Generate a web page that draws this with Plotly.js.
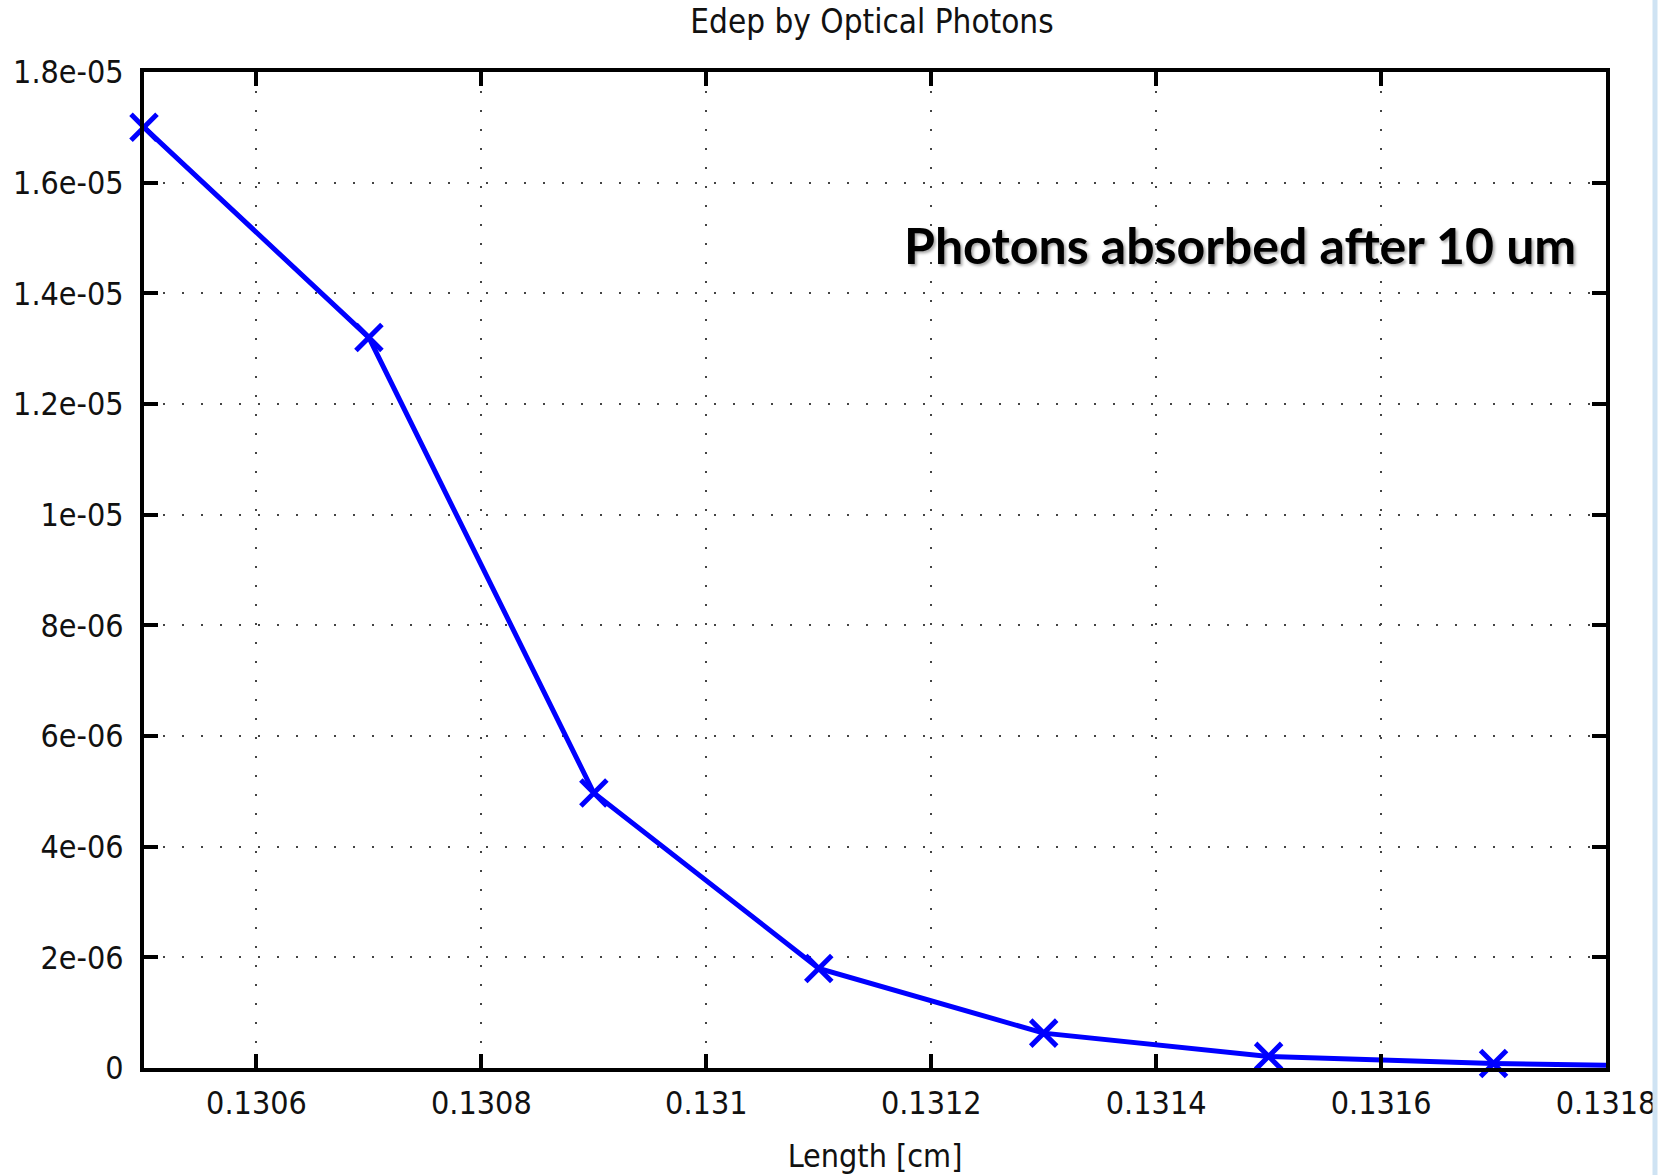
<!DOCTYPE html>
<html>
<head>
<meta charset="utf-8">
<script src="https://cdn.plot.ly/plotly-3.0.1.min.js"></script>
<style>html,body{margin:0;padding:0;background:#fff;}#chart{width:1658px;height:1175px;}</style>
</head>
<body>
<div id="chart"></div>
<script>
// Data
const lengthCm = [0.1305, 0.1307, 0.1309, 0.1311, 0.1313, 0.1315, 0.1317, 0.1319];
const edep     = [1.70e-5, 1.32e-5, 4.97e-6, 1.80e-6, 6.3e-7, 2.1e-7, 8e-8, 2e-8];

const xTickVals = [0.1306, 0.1308, 0.1310, 0.1312, 0.1314, 0.1316, 0.1318];
const xTickText = ["0.1306", "0.1308", "0.131", "0.1312", "0.1314", "0.1316", "0.1318"];
const yTickVals = [0, 2e-6, 4e-6, 6e-6, 8e-6, 1e-5, 1.2e-5, 1.4e-5, 1.6e-5, 1.8e-5];
const yTickText = ["0", "2e-06", "4e-06", "6e-06", "8e-06", "1e-05", "1.2e-05", "1.4e-05", "1.6e-05", "1.8e-05"];

const chartTitle = "Edep by Optical Photons";
const xTitle = "Length [cm]";
const noteText = "Photons absorbed after 10 um";

const tickFont = {family: "Liberation Sans Narrow, DejaVu Sans Condensed, sans-serif", size: 32, color: "#111"};

const trace = {
  x: lengthCm,
  y: edep,
  type: "scatter",
  mode: "lines+markers",
  line: {color: "#0000ff", width: 5},
  marker: {symbol: "x-thin-open", size: 26, color: "#0000ff", line: {color: "#0000ff", width: 5}},
  cliponaxis: false,
  showlegend: false
};

const axisCommon = {
  showline: true, linecolor: "#000", linewidth: 4, mirror: "ticks",
  ticks: "inside", ticklen: 14, tickwidth: 4, tickcolor: "#000",
  showgrid: true, gridcolor: "#444", gridwidth: 2, griddash: "2px,17px",
  zeroline: false, tickfont: tickFont
};

const layout = {
  width: 1658, height: 1175,
  margin: {l: 144, r: 52, t: 72, b: 107},
  paper_bgcolor: "#fff", plot_bgcolor: "#fff",
  title: {text: chartTitle, font: {family: tickFont.family, size: 33, color: "#111"},
          x: (872) / 1658, xanchor: "center", y: 1 - 21 / 1175, yanchor: "middle"},
  xaxis: Object.assign({}, axisCommon, {
    range: [0.1305, 0.1318], tickmode: "array", tickvals: xTickVals, ticktext: xTickText,
    ticklabelstandoff: 4,
    title: {text: xTitle, font: {family: tickFont.family, size: 32, color: "#111"}, standoff: 25}
  }),
  yaxis: Object.assign({}, axisCommon, {
    range: [0, 1.8e-5], tickmode: "array", tickvals: yTickVals, ticktext: yTickText,
    ticklabelstandoff: 10
  }),
  annotations: [{
    xref: "paper", yref: "paper", x: (1578 - 144) / 1462, y: (1068 - 245) / 996,
    xanchor: "right", yanchor: "middle", showarrow: false, text: "<b>" + noteText + "</b>",
    font: {family: "Lato, Open Sans, sans-serif", size: 50, weight: 900, color: "#000", shadow: "2px 2px 3px rgba(0,0,0,0.35)"}
  }],
  shapes: [{
    type: "line", xref: "paper", yref: "paper",
    x0: (1655 - 144) / 1462, x1: (1655 - 144) / 1462, y0: -0.2, y1: 1.2,
    line: {color: "#cfe3f3", width: 5}
  }]
};

Plotly.newPlot("chart", [trace], layout, {displayModeBar: false, staticPlot: true});
</script>
</body>
</html>
